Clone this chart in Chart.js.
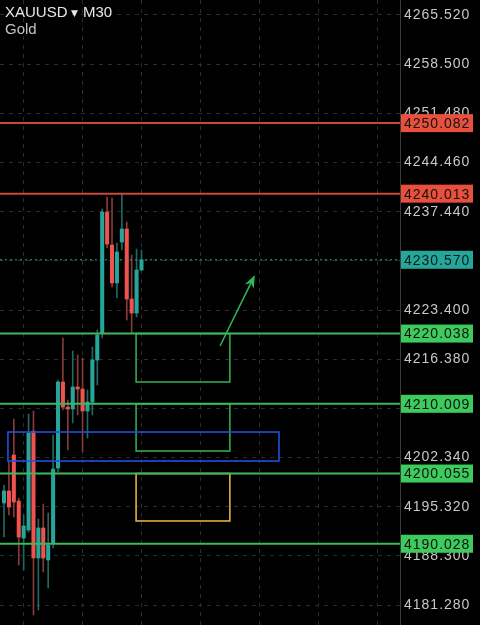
<!DOCTYPE html>
<html>
<head>
<meta charset="utf-8">
<script src="https://cdn.jsdelivr.net/npm/chart.js@4.4.1/dist/chart.umd.min.js"></script>
<style>
  html, body { margin: 0; padding: 0; background: #000; }
  #wrap { width: 480px; height: 625px; }
</style>
</head>
<body>
<div id="wrap"><canvas id="chart"></canvas></div>
<script>
// XAUUSD M30 candles, left to right
var opens  = [4195.85, 4197.56, 4202.70, 4196.13, 4190.85, 4191.99, 4206.13, 4187.99, 4192.28, 4187.71,
              4190.13, 4200.84, 4213.12, 4209.55, 4209.27, 4212.41, 4212.12, 4208.98, 4210.27, 4216.26,
              4220.12, 4237.39, 4232.68, 4227.26, 4233.11, 4234.97, 4224.97, 4222.97, 4229.11];
var highs  = [4198.42, 4201.70, 4207.84, 4196.56, 4194.13, 4208.55, 4208.98, 4193.56, 4195.70, 4194.42,
              4205.55, 4213.41, 4219.40, 4210.55, 4217.55, 4216.98, 4216.55, 4211.98, 4218.12, 4220.55,
              4237.82, 4239.53, 4239.39, 4232.97, 4240.11, 4235.97, 4231.25, 4232.11, 4231.97];
var lows   = [4190.99, 4194.13, 4193.85, 4186.99, 4186.28, 4191.70, 4179.85, 4180.57, 4185.99, 4183.71,
              4189.42, 4200.27, 4209.12, 4203.41, 4207.27, 4208.41, 4203.13, 4205.13, 4208.41, 4212.69,
              4219.40, 4232.25, 4226.68, 4225.11, 4231.97, 4221.97, 4220.12, 4222.40, 4229.00];
var closes = [4197.56, 4195.27, 4195.99, 4190.99, 4192.56, 4205.84, 4187.99, 4192.28, 4187.99, 4189.85,
              4200.70, 4213.12, 4209.55, 4209.27, 4212.41, 4212.12, 4208.98, 4210.27, 4216.26, 4219.83,
              4237.39, 4232.82, 4227.26, 4231.68, 4234.97, 4224.97, 4222.97, 4229.11, 4230.57];

var yTicks = [4181.28, 4188.30, 4195.32, 4202.34, 4209.36, 4216.38, 4223.40, 4230.42,
              4237.44, 4244.46, 4251.48, 4258.50, 4265.52];
var xGridAt = [4, 16, 28, 40, 52, 64, 76];

var resistLevels = [4250.082, 4240.013];
var supportLevels = [4220.038, 4210.009, 4200.055, 4190.028];
var lastPrice = 4230.570;

// drawn zones: bar index from/to, price top/bottom
var zoneFrom   = [26.9, 26.9, 0.8, 26.9];
var zoneTo     = [46.0, 46.0, 56.0, 46.0];
var zoneTop    = [4220.038, 4210.009, 4205.98, 4200.055];
var zoneBottom = [4213.12, 4203.27, 4201.84, 4193.28];
var zoneColors = ['#33a852', '#33a852', '#1f4fe0', '#e0b040'];

var arrowFrom = [44.0, 4218.26];
var arrowTo   = [51.1, 4228.40];

var UP = '#26a69a', DOWN = '#ef5350';
var UP_WICK = '#1d6a62', DOWN_WICK = '#8a3a34';
var FONT = 'Liberation Sans, Arial, sans-serif';

var wickData = [], bodyData = [], bodyColors = [], wickColors = [];
for (var i = 0; i < opens.length; i++) {
  var up = closes[i] >= opens[i];
  wickData.push({x: i, y: [lows[i], highs[i]]});
  bodyData.push({x: i, y: [opens[i], closes[i]]});
  bodyColors.push(up ? UP : DOWN);
  wickColors.push(up ? UP_WICK : DOWN_WICK);
}

function priceTag(ctx, y, yv, bg, fg) {
  ctx.fillStyle = bg;
  ctx.fillRect(401, yv - 9, 72, 18);
  ctx.fillStyle = fg;
  ctx.font = '14px ' + FONT;
  ctx.letterSpacing = '1px';
  ctx.textAlign = 'left';
  ctx.textBaseline = 'middle';
  ctx.fillText(y.toFixed(3), 404, yv + 1);
}

var overlay = {
  id: 'overlay',
  beforeDraw: function (chart) {
    var ctx = chart.ctx;
    ctx.save();
    ctx.fillStyle = '#000';
    ctx.fillRect(0, 0, chart.width, chart.height);
    ctx.restore();
    ctx.letterSpacing = '1px';
  },
  afterDatasetsDraw: function (chart) {
    var ctx = chart.ctx, xs = chart.scales.x, ys = chart.scales.y;
    var area = chart.chartArea;
    ctx.save();
    // zones
    ctx.lineWidth = 1.6;
    for (var k = 0; k < zoneFrom.length; k++) {
      var x0 = xs.getPixelForValue(zoneFrom[k]), x1 = xs.getPixelForValue(zoneTo[k]);
      var y0 = ys.getPixelForValue(zoneTop[k]), y1 = ys.getPixelForValue(zoneBottom[k]);
      ctx.strokeStyle = zoneColors[k];
      ctx.strokeRect(x0, y0, x1 - x0, y1 - y0);
    }
    // levels
    ctx.lineWidth = 2;
    resistLevels.forEach(function (v) {
      var y = ys.getPixelForValue(v);
      ctx.strokeStyle = '#c9483c';
      ctx.beginPath(); ctx.moveTo(area.left, y); ctx.lineTo(area.right, y); ctx.stroke();
    });
    supportLevels.forEach(function (v) {
      var y = ys.getPixelForValue(v);
      ctx.strokeStyle = '#3cb95a';
      ctx.beginPath(); ctx.moveTo(area.left, y); ctx.lineTo(area.right, y); ctx.stroke();
    });
    var yl = ys.getPixelForValue(lastPrice);
    ctx.strokeStyle = UP;
    ctx.lineWidth = 1;
    ctx.setLineDash([2, 3]);
    ctx.beginPath(); ctx.moveTo(area.left, yl); ctx.lineTo(area.right, yl); ctx.stroke();
    ctx.setLineDash([]);
    // arrow
    var ax0 = xs.getPixelForValue(arrowFrom[0]), ay0 = ys.getPixelForValue(arrowFrom[1]);
    var ax1 = xs.getPixelForValue(arrowTo[0]), ay1 = ys.getPixelForValue(arrowTo[1]);
    var ang = Math.atan2(ay1 - ay0, ax1 - ax0);
    ctx.strokeStyle = '#2fb85a';
    ctx.fillStyle = '#2fb85a';
    ctx.lineWidth = 1.5;
    ctx.beginPath();
    ctx.moveTo(ax0, ay0);
    ctx.lineTo(ax1 - 8 * Math.cos(ang), ay1 - 8 * Math.sin(ang));
    ctx.stroke();
    ctx.beginPath();
    ctx.moveTo(ax1, ay1);
    ctx.lineTo(ax1 - 13 * Math.cos(ang) + 5 * Math.sin(ang), ay1 - 13 * Math.sin(ang) - 5 * Math.cos(ang));
    ctx.lineTo(ax1 - 9 * Math.cos(ang), ay1 - 9 * Math.sin(ang));
    ctx.lineTo(ax1 - 13 * Math.cos(ang) - 5 * Math.sin(ang), ay1 - 13 * Math.sin(ang) + 5 * Math.cos(ang));
    ctx.closePath();
    ctx.fill();
    ctx.restore();
  },
  afterDraw: function (chart) {
    var ctx = chart.ctx, ys = chart.scales.y;
    ctx.save();
    resistLevels.forEach(function (v) { priceTag(ctx, v, ys.getPixelForValue(v), '#e8503d', '#111'); });
    supportLevels.forEach(function (v) { priceTag(ctx, v, ys.getPixelForValue(v), '#3ccb5c', '#111'); });
    priceTag(ctx, lastPrice, ys.getPixelForValue(lastPrice), UP, '#0c1c1a');
    // symbol header
    ctx.letterSpacing = '0px';
    ctx.textAlign = 'left';
    ctx.textBaseline = 'middle';
    ctx.font = '15px ' + FONT;
    ctx.fillStyle = '#e6e6e6';
    ctx.fillText('XAUUSD', 5, 13);
    ctx.font = '9px DejaVu Sans';
    ctx.fillText('\u25BC', 71, 14);
    ctx.font = '15px ' + FONT;
    ctx.fillText('M30', 83, 13);
    ctx.fillStyle = '#c4c4c4';
    ctx.fillText('Gold', 5, 30);
    ctx.restore();
  }
};

new Chart(document.getElementById('chart'), {
  type: 'bar',
  data: {
    datasets: [
      { label: 'wick', data: wickData, backgroundColor: wickColors, barThickness: 1, grouped: false, order: 2 },
      { label: 'body', data: bodyData, backgroundColor: bodyColors, barThickness: 3.4, minBarLength: 1, grouped: false, order: 1 }
    ]
  },
  options: {
    responsive: true,
    maintainAspectRatio: false,
    animation: false,
    layout: { padding: 0 },
    plugins: { legend: { display: false }, tooltip: { enabled: false } },
    scales: {
      x: {
        type: 'linear',
        min: -0.815,
        max: 80.65,
        offset: false,
        afterBuildTicks: function (s) { s.ticks = xGridAt.map(function (v) { return {value: v}; }); },
        ticks: { display: false },
        grid: { color: '#2c2c2c', drawTicks: false, offset: false },
        border: { display: false, dash: [4, 5] }
      },
      y: {
        position: 'right',
        min: 4178.43,
        max: 4267.66,
        afterBuildTicks: function (s) { s.ticks = yTicks.map(function (v) { return {value: v}; }); },
        afterFit: function (s) { s.width = 80; s.paddingTop = 0; s.paddingBottom = 0; },
        ticks: {
          color: '#c8c8c8',
          padding: 4,
          font: { family: FONT, size: 14 },
          callback: function (v) { return Number(v).toFixed(3); }
        },
        grid: { color: '#2c2c2c', drawTicks: false },
        border: { display: true, color: '#3c3c3c', width: 1, dash: [4, 5] }
      }
    }
  },
  plugins: [overlay]
});
</script>
</body>
</html>
